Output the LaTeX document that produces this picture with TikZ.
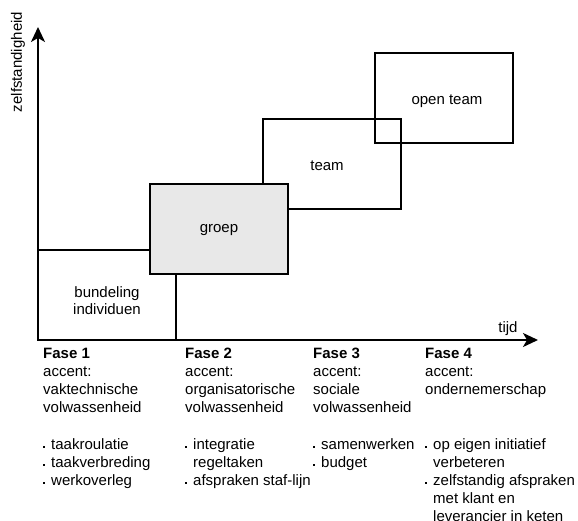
\documentclass[tikz,border=0pt]{standalone}
\usepackage{fontspec}
\setmainfont{Liberation Sans}
\usetikzlibrary{arrows.meta,calc}
\definecolor{groepfill}{HTML}{E8E8E8}
\newcommand\bl{\makebox[8pt][l]{\rule[1.3pt]{2.2pt}{2.2pt}}}
\newcommand\ind{\hspace*{8pt}}
\begin{document}
\begin{tikzpicture}[x=1pt,y=-1pt,
  box/.style={draw=black, line width=2pt, minimum width=138pt, minimum height=90pt,
    inner sep=0pt, outer sep=0pt, anchor=north west},
  lbl/.style={font=\fontsize{15}{16.5}\selectfont, align=center, inner sep=0pt, anchor=base},
  col/.style={font=\fontsize{15}{18}\selectfont, align=left, inner sep=0pt, anchor=north west},
  axis/.style={line width=2pt, {Stealth[length=15pt,width=14pt,inset=4pt]}-{Stealth[length=15pt,width=14pt,inset=4pt]}}]
\useasboundingbox (0,0) rectangle (578,521);
% axes
\coordinate (ytip) at (38,27);
\coordinate (O) at (38,340);
\coordinate (xtip) at (538,340);
% boxes
\node[box] (bund) at (38,250) {};
\node[box] (team) at (263,119) {};
\node[box] (open) at (375,53) {};
\node[box, fill=groepfill] (groep) at (150,184) {};
\draw[axis] (ytip) -- (O) -- (xtip);
% box labels
\node[lbl] (lbund) at (107,314) {bundeling\\individuen};
\node[lbl] (lgroep) at (219,233) {groep};
\node[lbl] (lteam) at (327,171) {team};
\node[lbl] (lopen) at (447,105) {open team};
% axis labels
\node[font=\fontsize{15}{18}\selectfont, rotate=90, inner sep=0pt] (ylab) at (18,62) {zelfstandigheid};
\node[lbl] (xlab) at (508,332) {tijd};
% columns
\node[col] (h1) at (43,348.3) {\textbf{Fase 1}\\accent:\\vaktechnische\\volwassenheid};
\node[col] (h2) at (185,348.3) {\textbf{Fase 2}\\accent:\\organisatorische\\volwassenheid};
\node[col] (h3) at (313,348.3) {\textbf{Fase 3}\\accent:\\sociale\\volwassenheid};
\node[col] (h4) at (425,348.3) {\textbf{Fase 4}\\accent:\\ondernemerschap};
\node[col] (b1) at (43,438) {\bl taakroulatie\\\bl taakverbreding\\\bl werkoverleg};
\node[col] (b2) at (185,438) {\bl integratie\\\ind regeltaken\\\bl afspraken staf-lijn};
\node[col] (b3) at (313,438) {\bl samenwerken\\\bl budget};
\node[col] (b4) at (425,438) {\bl op eigen initiatief\\\ind verbeteren\\\bl zelfstandig afspraken\\\ind met klant en\\\ind leverancier in keten};
\end{tikzpicture}
\end{document}
